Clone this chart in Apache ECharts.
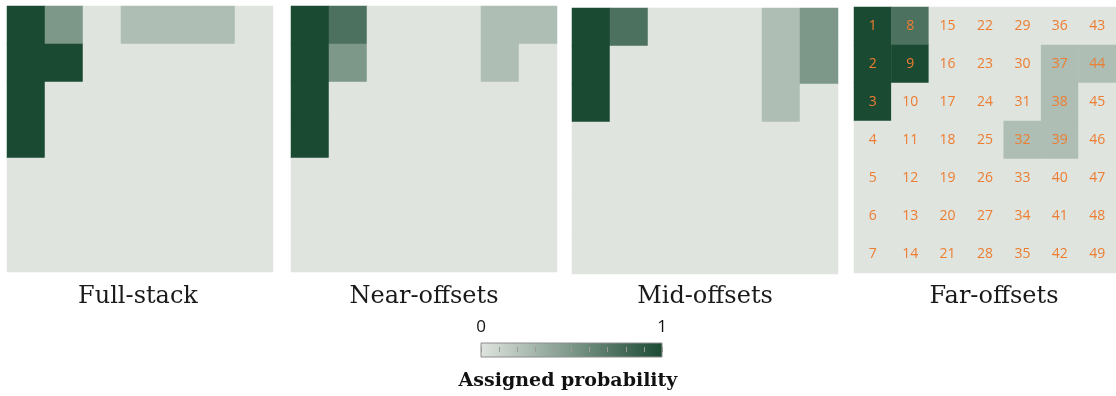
<!DOCTYPE html>
<html>
<head>
<meta charset="utf-8">
<script src="https://cdn.jsdelivr.net/npm/echarts@6/dist/echarts.min.js"></script>
<style>html,body{margin:0;padding:0;background:#fff}#c{width:1116px;height:396px}</style>
</head>
<body>
<div id="c"></div>
<script>
// 7x7 grid categories (columns and rows)
const gridCols = ['0','1','2','3','4','5','6'];
const gridRows = ['0','1','2','3','4','5','6'];
const panelTitles = ['Full-stack', 'Near-offsets', 'Mid-offsets', 'Far-offsets'];
const colorbarLabels = ['0', '1'];
const colorbarTitle = 'Assigned probability';

// Assigned probability per cell, listed row by row (top row first)
const fullStack = [
  [1, 0.5, 0, 0.25, 0.25, 0.25, 0],
  [1, 1, 0, 0, 0, 0, 0],
  [1, 0, 0, 0, 0, 0, 0],
  [1, 0, 0, 0, 0, 0, 0],
  [0, 0, 0, 0, 0, 0, 0],
  [0, 0, 0, 0, 0, 0, 0],
  [0, 0, 0, 0, 0, 0, 0]
];
const nearOffsets = [
  [1, 0.75, 0, 0, 0, 0.25, 0.25],
  [1, 0.5, 0, 0, 0, 0.25, 0],
  [1, 0, 0, 0, 0, 0, 0],
  [1, 0, 0, 0, 0, 0, 0],
  [0, 0, 0, 0, 0, 0, 0],
  [0, 0, 0, 0, 0, 0, 0],
  [0, 0, 0, 0, 0, 0, 0]
];
const midOffsets = [
  [1, 0.75, 0, 0, 0, 0.25, 0.5],
  [1, 0, 0, 0, 0, 0.25, 0.5],
  [1, 0, 0, 0, 0, 0.25, 0],
  [0, 0, 0, 0, 0, 0, 0],
  [0, 0, 0, 0, 0, 0, 0],
  [0, 0, 0, 0, 0, 0, 0],
  [0, 0, 0, 0, 0, 0, 0]
];
const farOffsets = [
  [1, 0.75, 0, 0, 0, 0, 0],
  [1, 1, 0, 0, 0, 0.25, 0.25],
  [1, 0, 0, 0, 0, 0.25, 0],
  [0, 0, 0, 0, 0.25, 0.25, 0],
  [0, 0, 0, 0, 0, 0, 0],
  [0, 0, 0, 0, 0, 0, 0],
  [0, 0, 0, 0, 0, 0, 0]
];

const panels = [fullStack, nearOffsets, midOffsets, farOffsets];
const LOW = '#dfe4df', HIGH = '#1b4a33';
const gridBoxes = [
  {left: 7, top: 6, width: 266, height: 266},
  {left: 291, top: 6, width: 266, height: 266},
  {left: 572, top: 8, width: 266, height: 266},
  {left: 854, top: 7, width: 266, height: 266}
];
const titleCenters = [138, 424, 705, 994];

function toCells(m) {
  const out = [];
  m.forEach((row, r) => row.forEach((v, c) => out.push([c, r, v])));
  return out;
}

const grids = gridBoxes.map(b => Object.assign({containLabel: false}, b));
grids.push({left: 481, top: 343, width: 181, height: 14, show: true,
  backgroundColor: {type: 'linear', x: 0, y: 0, x2: 1, y2: 0,
    colorStops: [{offset: 0, color: LOW}, {offset: 1, color: HIGH}]},
  borderColor: '#8c8c8c', borderWidth: 1});

const xAxes = gridBoxes.map((b, i) => ({type: 'category', gridIndex: i, data: gridCols, show: false}));
const yAxes = gridBoxes.map((b, i) => ({type: 'category', gridIndex: i, data: gridRows, inverse: true, show: false}));
xAxes.push({type: 'value', gridIndex: 4, min: 0, max: 1, interval: 0.1, position: 'top', offset: -5,
  axisLine: {show: false}, splitLine: {show: false},
  axisTick: {show: true, inside: false, length: 5, lineStyle: {color: '#9a9a9a'}},
  axisLabel: {show: true, margin: 12, fontSize: 17, color: '#111', fontFamily: 'Open Sans',
    showMinLabel: true, showMaxLabel: true,
    formatter: v => v === 0 ? colorbarLabels[0] : (v === 1 ? colorbarLabels[1] : '')}});
yAxes.push({type: 'value', gridIndex: 4, show: false});

const series = panels.map((m, i) => ({
  type: 'heatmap', xAxisIndex: i, yAxisIndex: i, data: toCells(m),
  itemStyle: {borderWidth: 0},
  emphasis: {disabled: true},
  label: i === 3 ? {show: true, color: '#ED7D31', fontSize: 14, fontFamily: 'Open Sans',
    formatter: p => String(p.data[0] * 7 + p.data[1] + 1)} : {show: false}
}));

const graphics = panelTitles.map((t, i) => ({
  type: 'text', x: titleCenters[i], y: 297,
  style: {text: t, align: 'center', verticalAlign: 'middle', fill: '#1a1a1a',
    font: '24px "DejaVu Serif"'}
}));
graphics.push({type: 'text', x: 568, y: 381,
  style: {text: colorbarTitle, align: 'center', verticalAlign: 'middle', fill: '#111',
    font: '600 19px "DejaVu Serif"'}});

const chart = echarts.init(document.getElementById('c'), null, {renderer: 'canvas'});
chart.setOption({
  animation: false,
  backgroundColor: '#ffffff',
  grid: grids,
  xAxis: xAxes,
  yAxis: yAxes,
  visualMap: {show: false, min: 0, max: 1, seriesIndex: [0, 1, 2, 3], inRange: {color: [LOW, HIGH]}},
  graphic: graphics,
  series: series
});
</script>
</body>
</html>
